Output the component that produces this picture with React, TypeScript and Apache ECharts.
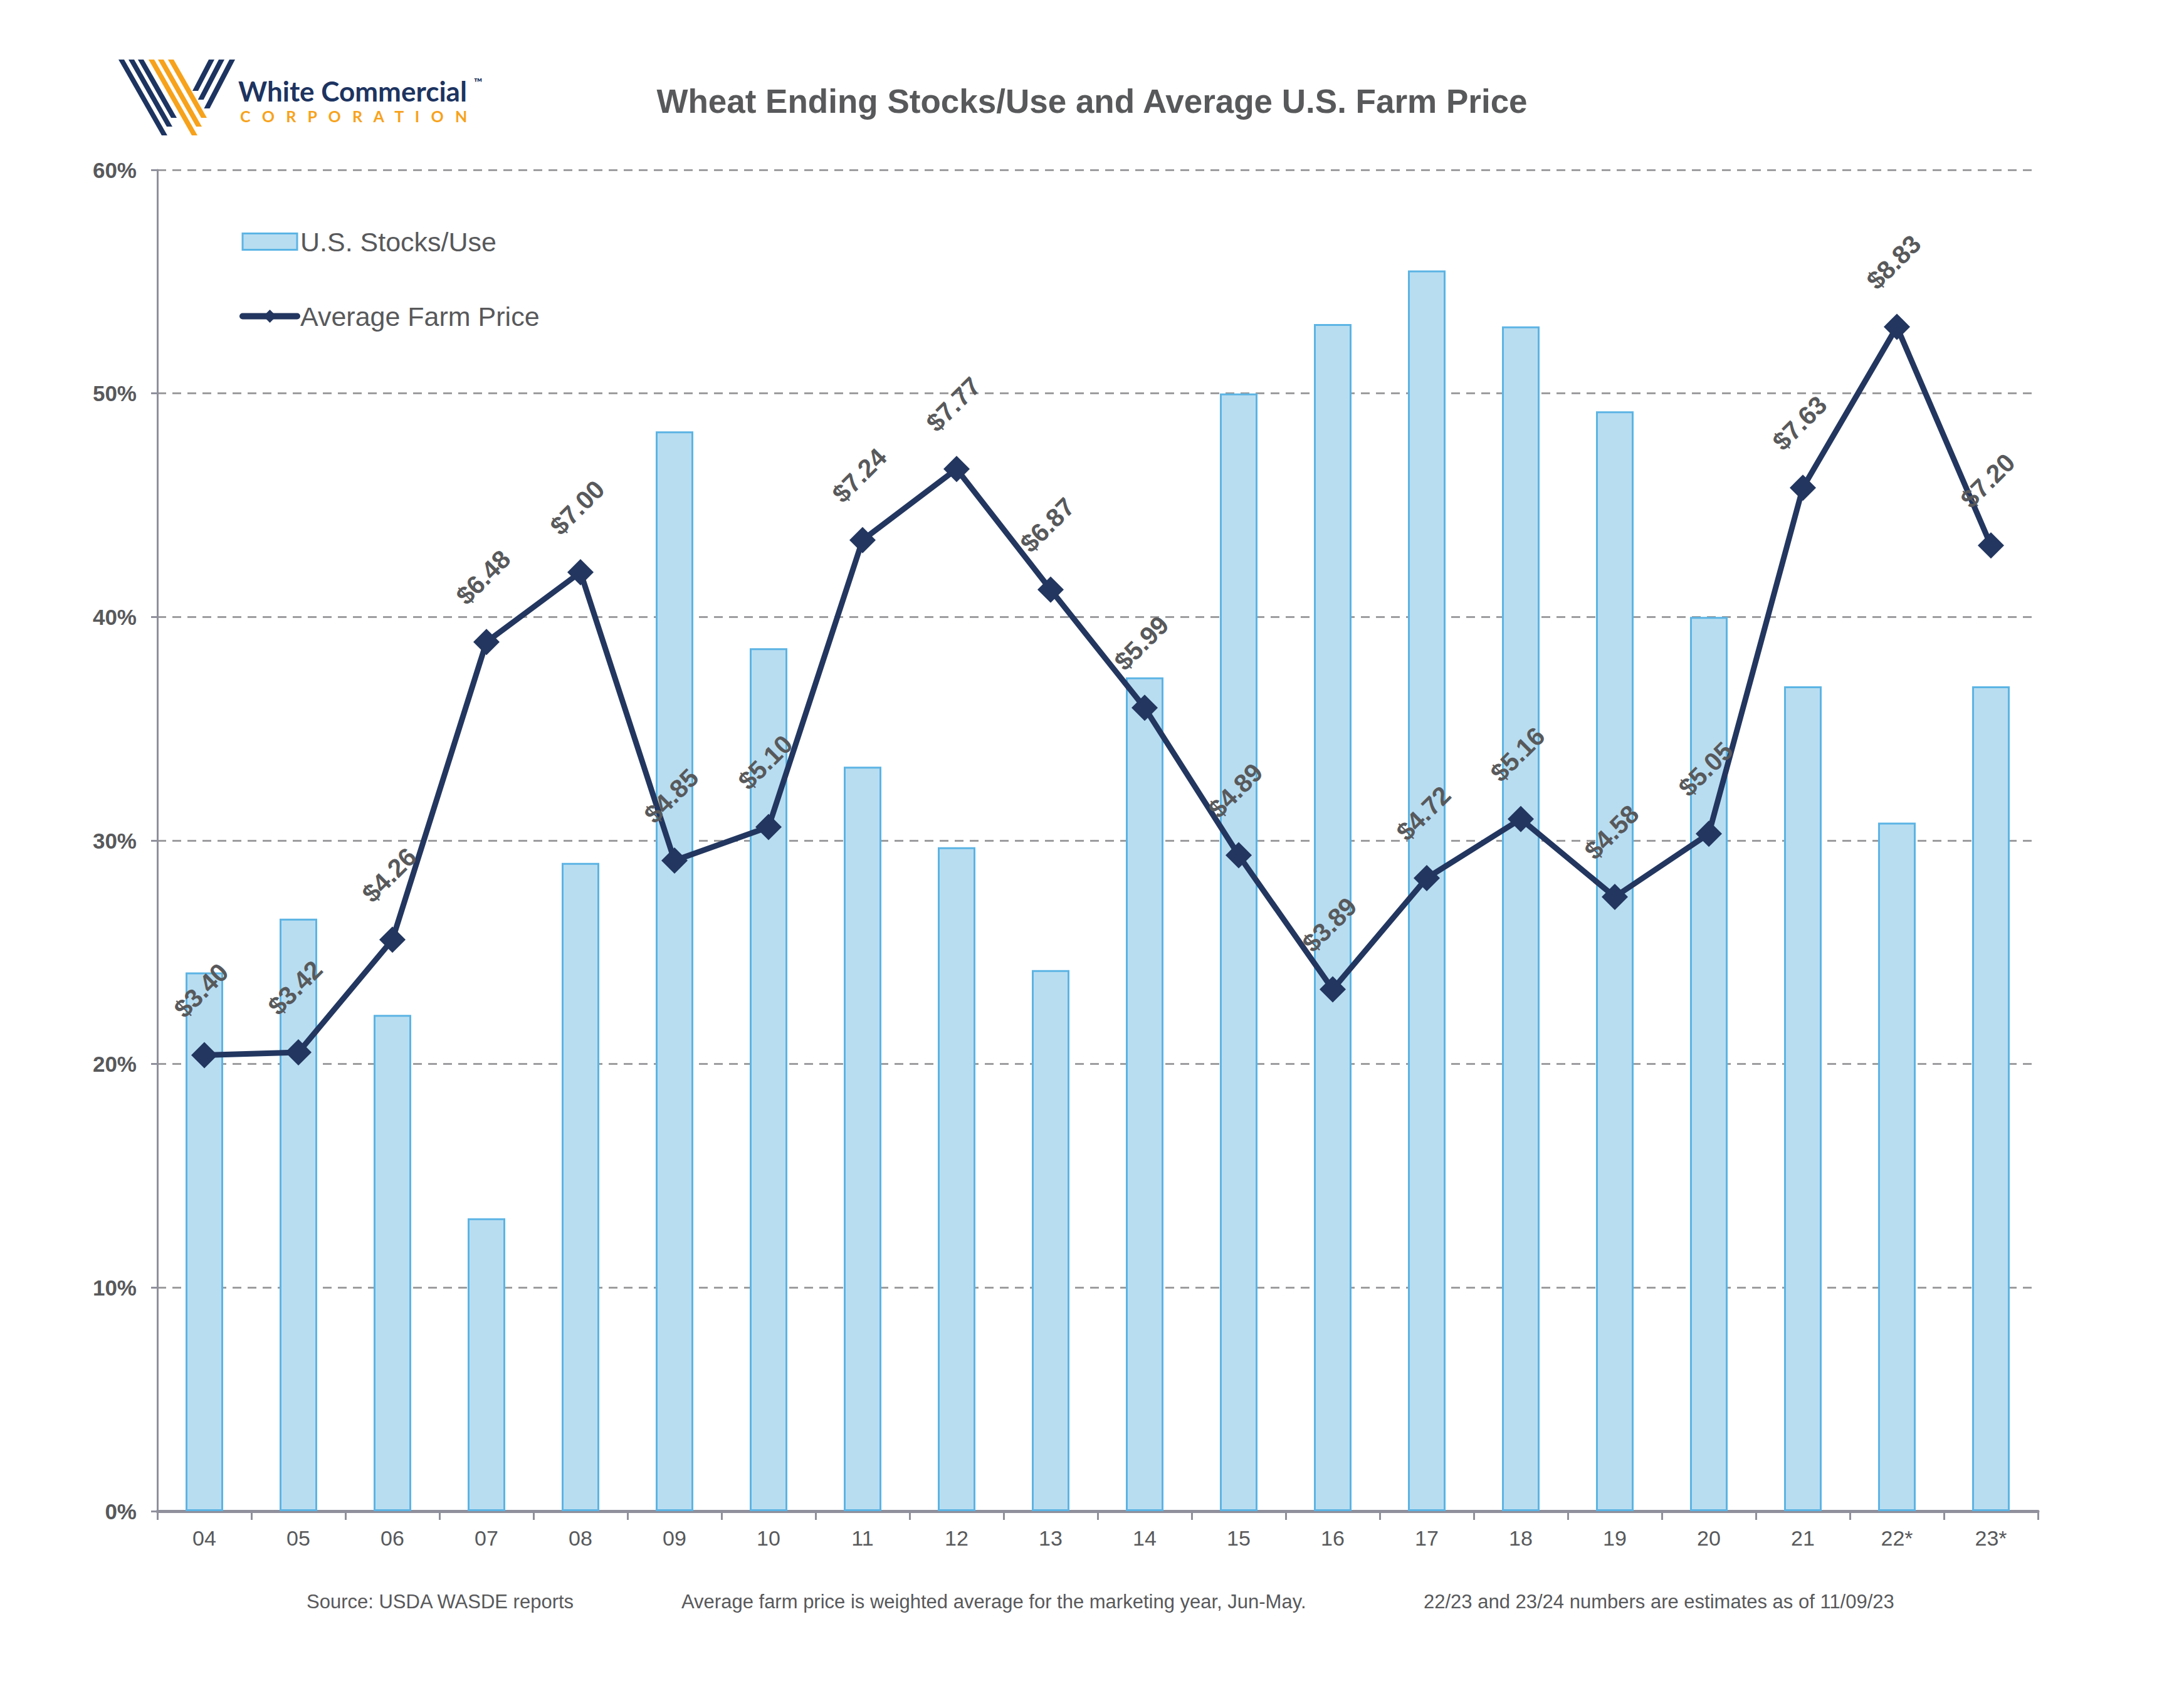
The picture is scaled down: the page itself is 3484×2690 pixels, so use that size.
import React, { useEffect, useRef } from 'react';
import * as echarts from 'echarts';

const years = ['04', '05', '06', '07', '08', '09', '10', '11', '12', '13', '14', '15', '16', '17', '18', '19', '20', '21', '22*', '23*'];
const stocksUse = [24.1, 26.5, 22.2, 13.1, 29.0, 48.3, 38.6, 33.3, 29.7, 24.2, 37.3, 50.0, 53.1, 55.5, 53.0, 49.2, 40.0, 36.9, 30.8, 36.9];
const farmPrice = [3.40, 3.42, 4.26, 6.48, 7.00, 4.85, 5.10, 7.24, 7.77, 6.87, 5.99, 4.89, 3.89, 4.72, 5.16, 4.58, 5.05, 7.63, 8.83, 7.20];
const titleText = 'Wheat Ending Stocks/Use and Average U.S. Farm Price';
const seriesNames = ['U.S. Stocks/Use', 'Average Farm Price'];
const footnotes = [
  'Source: USDA WASDE reports',
  'Average farm price is weighted average for the marketing year, Jun-May.',
  '22/23 and 23/24 numbers are estimates as of 11/09/23',
];

const FONT = "'Liberation Sans', Arial, Helvetica, sans-serif";
const GREY = '#58595b';
const NAVY = '#22365f';
const LOGO_NAVY = '#1d3461';
const LOGO_ORANGE = '#f7a21b';
const NB3 = '\u00A0\u00A0\u00A0';

function leftStripe(x0: number, yb: number, color: string) {
  const yt = 95, w = 9, s = 0.57;
  const d = s * (yb - yt);
  return { type: 'polygon', shape: { points: [[x0, yt], [x0 + w, yt], [x0 + w + d, yb], [x0 + d, yb]] }, style: { fill: color } };
}
function rightStripe(x0: number, yb: number, color: string) {
  const yt = 95, w = 9, s = 0.52;
  const d = s * (yb - yt);
  return { type: 'polygon', shape: { points: [[x0, yt], [x0 + w, yt], [x0 + w - d, yb], [x0 - d, yb]] }, style: { fill: color } };
}

export default function App() {
  const ref = useRef<HTMLDivElement>(null);
  useEffect(() => {
    document.body.style.margin = '0';
    const chart = echarts.init(ref.current!, null, { renderer: 'svg' });
    const logo = [
      leftStripe(189, 216, LOGO_NAVY),
      leftStripe(205, 202, LOGO_NAVY),
      leftStripe(220, 188, LOGO_NAVY),
      leftStripe(237, 216, LOGO_ORANGE),
      leftStripe(252, 202, LOGO_ORANGE),
      leftStripe(268, 188, LOGO_ORANGE),
      rightStripe(333, 145, LOGO_NAVY),
      rightStripe(349, 159, LOGO_NAVY),
      rightStripe(366, 173, LOGO_NAVY),
      { type: 'text', x: 380, y: 145, style: { text: 'White Commercial', fill: LOGO_NAVY, font: "bold 44px Lato, 'Open Sans', sans-serif", textVerticalAlign: 'middle', textAlign: 'left' } },
      { type: 'text', x: 756, y: 131, style: { text: '™', fill: LOGO_NAVY, font: "bold 18px Lato, sans-serif", textVerticalAlign: 'middle', textAlign: 'left' } },
      { type: 'text', x: 383, y: 185, style: { text: ['C', 'O', 'R', 'P', 'O', 'R', 'A', 'T', 'I', 'O', 'N'].join(NB3), fill: LOGO_ORANGE, font: "bold 25px Lato, sans-serif", textVerticalAlign: 'middle', textAlign: 'left' } },
    ];
    const footX = [489, 1087, 2271];
    const foot = footnotes.map((t, i) => ({
      type: 'text', x: footX[i], y: 2555,
      style: { text: t, fill: GREY, font: `31px ${FONT}`, textVerticalAlign: 'middle', textAlign: 'left' },
    }));

    chart.setOption({
      animation: false,
      backgroundColor: '#ffffff',
      textStyle: { fontFamily: FONT },
      title: {
        text: titleText, left: 'center', top: 130,
        textStyle: { fontSize: 53, fontWeight: 'bold', color: GREY, fontFamily: FONT },
      },
      legend: {
        orient: 'vertical', left: 382, top: 364, itemGap: 76, padding: 0,
        itemWidth: 87, itemHeight: 26,
        textStyle: { fontSize: 43, color: GREY, fontFamily: FONT, lineHeight: 43 },
        lineStyle: { width: 10, cap: 'round' },
        itemStyle: { borderWidth: 3 },
        data: [{ name: seriesNames[0], icon: 'rect' }, { name: seriesNames[1] }],
      },
      grid: { left: 251, right: 233, top: 271, bottom: 279, containLabel: false },
      xAxis: {
        type: 'category', data: years, boundaryGap: true,
        axisLine: { lineStyle: { color: '#8f909c', width: 5 } },
        axisTick: { show: true, length: 14, lineStyle: { color: '#8f909c', width: 3 } },
        axisLabel: { fontSize: 34, color: GREY, margin: 26, fontFamily: FONT },
      },
      yAxis: [
        {
          type: 'value', min: 0, max: 60, interval: 10,
          axisLine: { show: true, lineStyle: { color: '#8f909c', width: 3 } },
          axisTick: { show: true, length: 10, lineStyle: { color: '#8f909c', width: 3 } },
          axisLabel: { formatter: '{value}%', fontSize: 35, fontWeight: 'bold', color: GREY, margin: 33, fontFamily: FONT },
          splitLine: { show: true, lineStyle: { color: '#9d9d9f', width: 3, type: [14, 10] } },
        },
        {
          type: 'value', min: 0, max: 10, interval: 2, show: false,
          splitLine: { show: false },
        },
      ],
      series: [
        {
          name: seriesNames[0], type: 'bar', data: stocksUse, barWidth: 60,
          itemStyle: { color: '#b8ddf1', borderColor: '#5cb4e4', borderWidth: 3 },
          silent: true,
        },
        {
          name: seriesNames[1], type: 'line', yAxisIndex: 1, data: farmPrice,
          symbol: 'diamond', symbolSize: 42,
          lineStyle: { color: NAVY, width: 9 },
          itemStyle: { color: NAVY },
          label: {
            show: true,
            formatter: (p: any) => '$' + Number(p.value).toFixed(2),
            position: [16, -82],
            align: 'center', verticalAlign: 'middle',
            rotate: 45,
            fontSize: 41, fontWeight: 'bold', color: GREY, fontFamily: FONT,
          },
          silent: true,
          z: 3,
        },
      ],
      graphic: [...logo, ...foot],
    });
    return () => chart.dispose();
  }, []);
  return <div ref={ref} style={{ width: 3484, height: 2690 }} />;
}
